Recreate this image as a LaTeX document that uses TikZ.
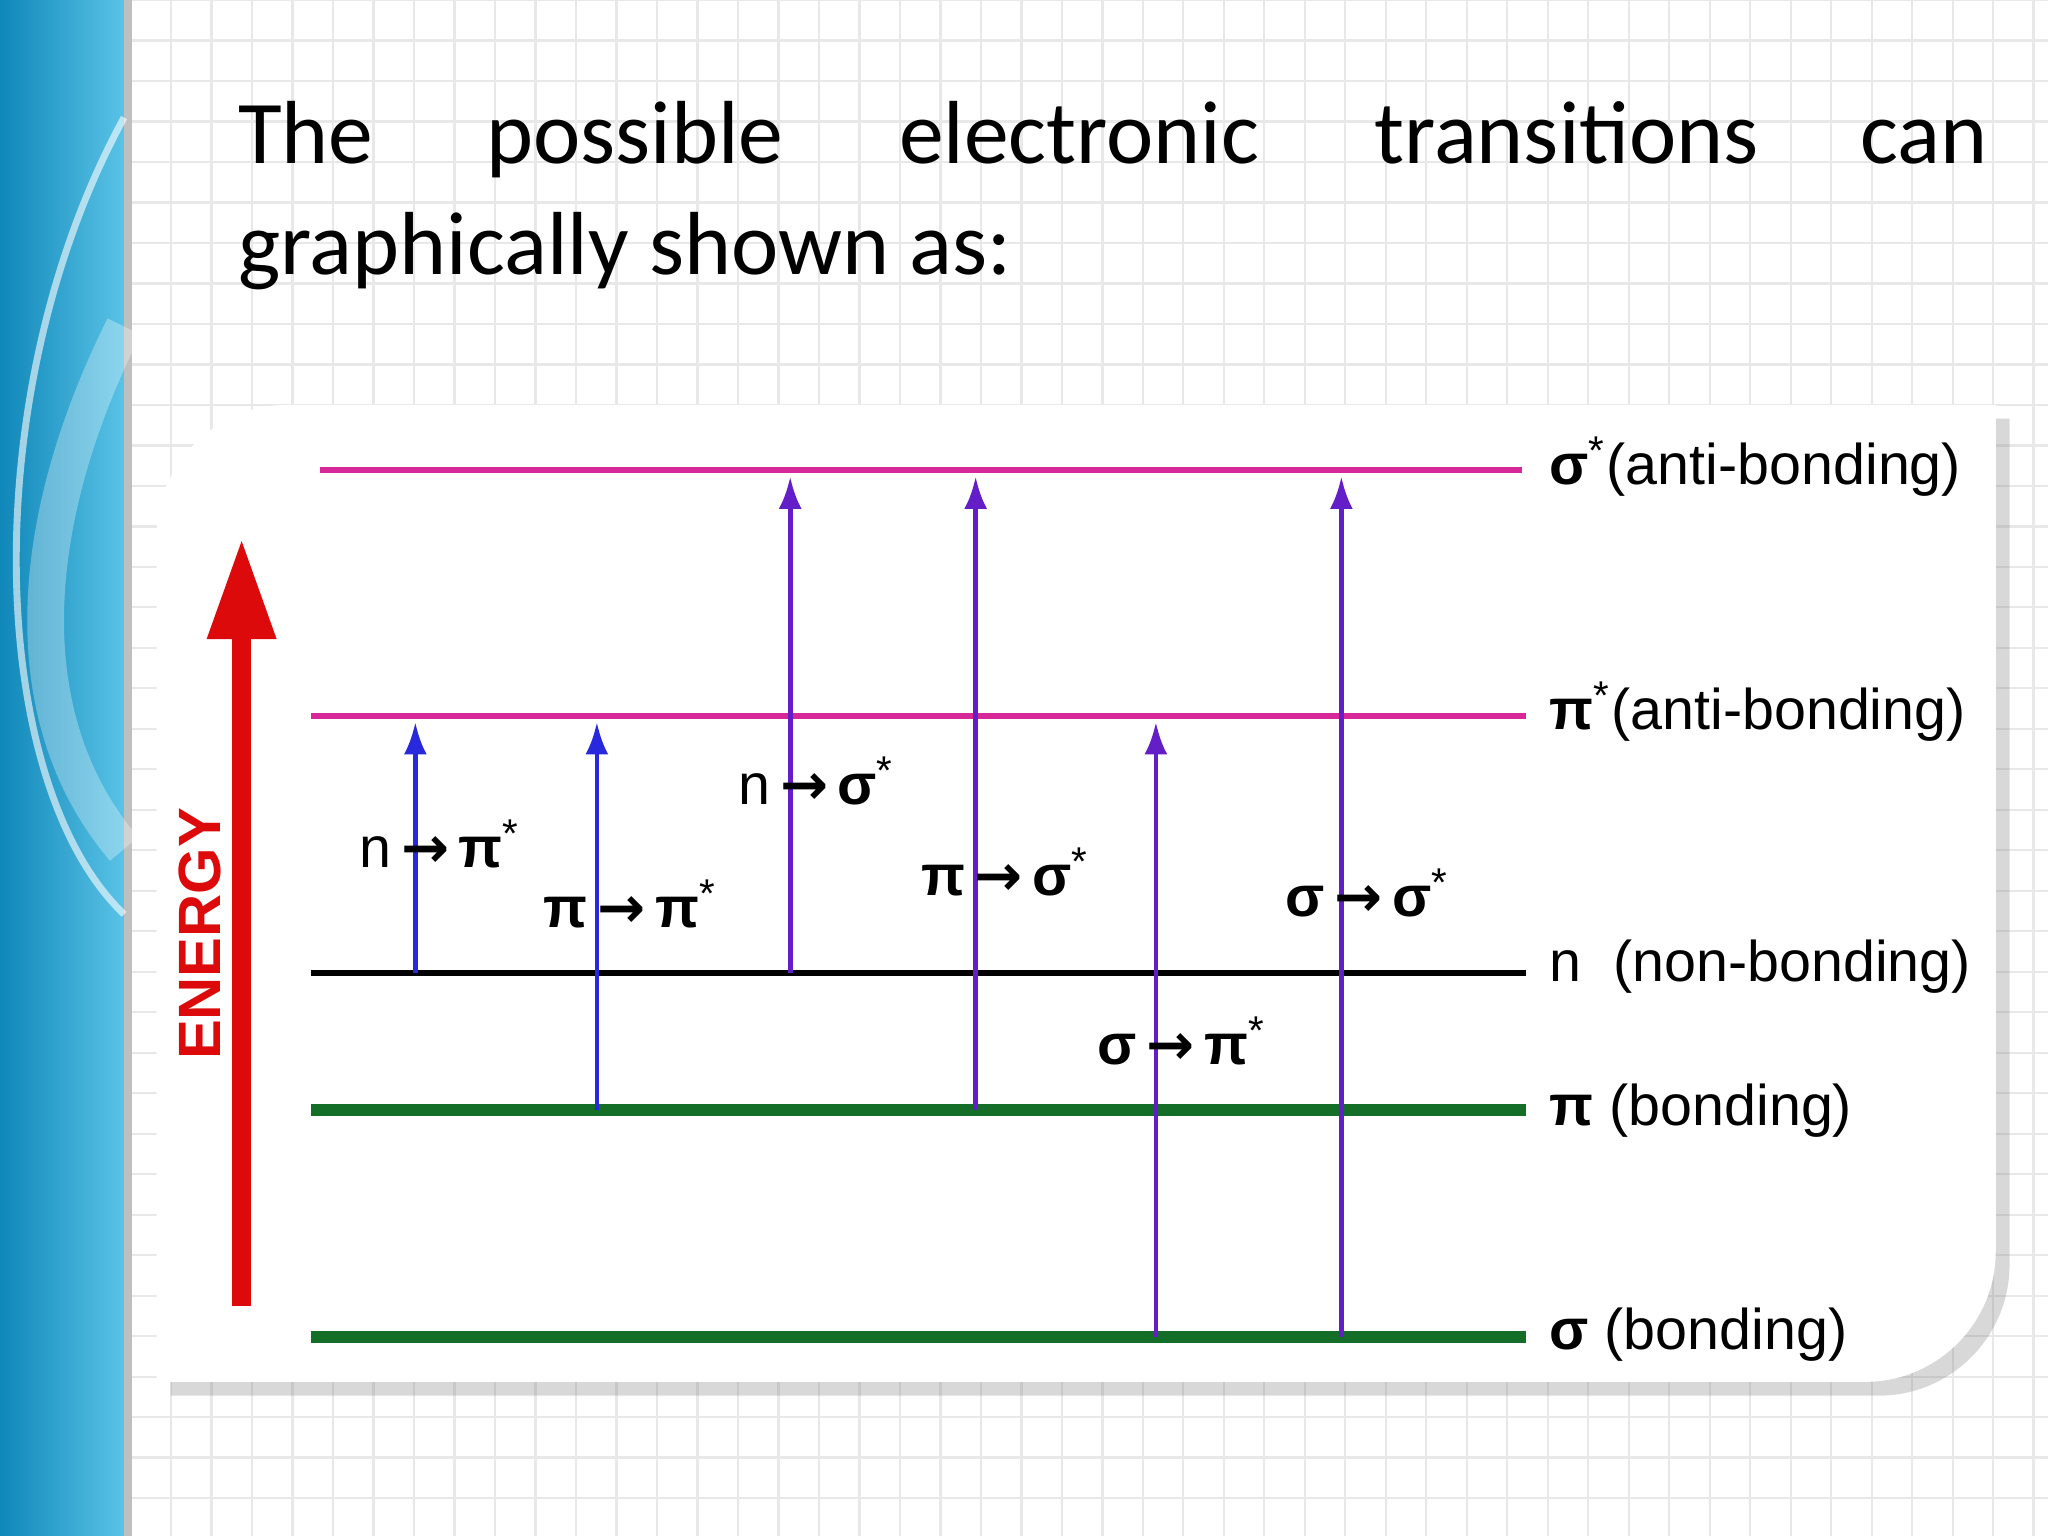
\documentclass[tikz,border=0pt]{standalone}
\usepackage{fontspec}
\setmainfont{Carlito}
\newfontfamily\lab{Liberation Sans}
\newfontfamily\djv{DejaVu Sans}
\usetikzlibrary{arrows.meta,shadows}
\definecolor{mag}{RGB}{214,40,150}
\definecolor{grn}{RGB}{20,110,40}
\definecolor{blu}{RGB}{40,40,220}
\definecolor{pur}{RGB}{100,30,200}
\definecolor{red1}{RGB}{220,10,10}
\definecolor{bandA}{RGB}{15,135,185}
\definecolor{bandB}{RGB}{90,195,230}
\newcommand{\myar}{\,{\djv\bfseries →}\,}
\newcommand{\mysg}{\textbf{σ}}
\newcommand{\mypp}{\textbf{π}}
\newcommand{\myst}{\textsuperscript{*}}
\tikzset{
 lvl/.style={line width=1.3pt},
 bond/.style={line width=2.6pt,grn},
 tr/.style={line width=1pt,-{Latex[length=7pt,width=5pt]}},
 tl/.style={font=\lab\fontsize{12.5}{13}\selectfont,anchor=base west},
 rl/.style={font=\lab\fontsize{12.5}{14}\selectfont,anchor=west},
 tt/.style={font=\fontsize{19.5}{20}\selectfont,anchor=base west}
}
\begin{document}
\begin{tikzpicture}[x=0.01cm,y=-0.01cm]
\useasboundingbox (0,0) rectangle (1568,1176);
\fill[white] (0,0) rectangle (1568,1176);
\foreach \i in {0,...,50} {\draw[black!9,line width=0.5pt] (100+\i*31,0) -- (100+\i*31,1176);}
\foreach \i in {0,...,38} {\draw[black!9,line width=0.5pt] (100,\i*31) -- (1568,\i*31);}
\shade[left color=bandA,right color=bandB] (0,0) rectangle (95,1176);
\fill[black!25] (95,0) rectangle (101,1176);
\draw[white,opacity=0.6,line width=1.5pt] (95,90) .. controls (-20,300) and (-10,600) .. (95,700);
\draw[white,opacity=0.3,line width=8pt] (95,250) .. controls (20,400) and (10,550) .. (95,650);
% title
\node[tt] (w1) at (170,125) {The};
\node[tt] (w2) at (360,125) {possible};
\node[tt] (w3) at (676,125) {electronic};
\node[tt] (w4) at (1040,125) {transitions};
\node[tt] (w5) at (1412,125) {can};
\node[tt] (w6) at (170,210) {graphically shown as:};
% panel
\fill[white,drop shadow={shadow xshift=3pt,shadow yshift=-3pt,opacity=0.3}]
 (120,1058) -- (120,410) .. controls (120,355) and (165,310) .. (220,310) -- (1528,310) -- (1528,958) .. controls (1528,1013) and (1483,1058) .. (1428,1058) -- cycle;
% levels
\coordinate (s1a) at (245,360); \coordinate (s1b) at (1165,360);
\coordinate (p1a) at (238,548); \coordinate (p1b) at (1168,548);
\coordinate (na) at (238,745); \coordinate (nb) at (1168,745);
\coordinate (pa) at (238,850); \coordinate (pb) at (1168,850);
\coordinate (sa) at (238,1024); \coordinate (sb) at (1168,1024);
\draw[lvl,mag] (s1a) -- (s1b);
\draw[lvl,mag] (p1a) -- (p1b);
\draw[lvl,black] (na) -- (nb);
\draw[bond] (pa) -- (pb);
\draw[bond] (sa) -- (sb);
\node[rl] (l1) at (1174,357) {\mysg\myst(anti-bonding)};
\node[rl] (l2) at (1174,545) {\mypp\myst(anti-bonding)};
\node[rl] (l3) at (1174,740) {n \ (non-bonding)};
\node[rl] (l4) at (1174,850) {\mypp \ (bonding)};
\node[rl] (l5) at (1174,1022) {\mysg \ (bonding)};
% transitions
\coordinate (t1b) at (318,745); \coordinate (t1e) at (318,553);
\coordinate (t2b) at (457,850); \coordinate (t2e) at (457,553);
\coordinate (t3b) at (605,745); \coordinate (t3e) at (605,365);
\coordinate (t4b) at (747,850); \coordinate (t4e) at (747,365);
\coordinate (t5b) at (885,1024); \coordinate (t5e) at (885,553);
\coordinate (t6b) at (1027,1024); \coordinate (t6e) at (1027,365);
\draw[tr,blu] (t1b) -- (t1e);
\draw[tr,blu] (t2b) -- (t2e);
\draw[tr,pur] (t3b) -- (t3e);
\draw[tr,pur] (t4b) -- (t4e);
\draw[tr,pur] (t5b) -- (t5e);
\draw[tr,pur] (t6b) -- (t6e);
\node[tl] (a1) at (263,664) {n\myar\mypp\myst};
\node[tl] (a2) at (404,710) {\mypp\myar\mypp\myst};
\node[tl] (a3) at (553,616) {n\myar\mysg\myst};
\node[tl] (a4) at (693,686) {\mypp\myar\mysg\myst};
\node[tl] (a5) at (828,815) {\mysg\myar\mypp\myst};
\node[tl] (a6) at (972,702) {\mysg\myar\mysg\myst};
% energy
\coordinate (e1) at (185,1000); \coordinate (e2) at (185,412);
\draw[red1,line width=4pt,-{Triangle[length=22pt,width=14pt]}] (e1) -- (e2);
\node[red1,rotate=90,font=\lab\bfseries\fontsize{13}{13}\selectfont] (en) at (153,715) {ENERGY};
\end{tikzpicture}
\end{document}
